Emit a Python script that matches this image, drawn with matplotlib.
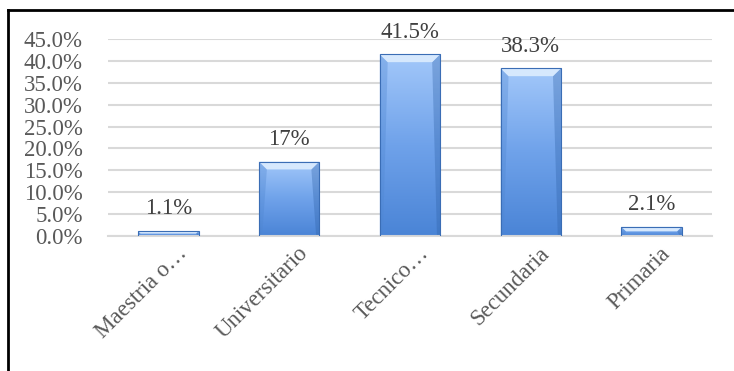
import numpy as np
import matplotlib
matplotlib.use("Agg")
import matplotlib.pyplot as plt
from matplotlib.colors import LinearSegmentedColormap
from matplotlib.patches import Polygon
from matplotlib.lines import Line2D
import matplotlib.transforms as mtransforms

categories = ["Maestria o\u2026", "Universitario", "Tecnico\u2026", "Secundaria", "Primaria"]
values = [0.011, 0.17, 0.415, 0.383, 0.021]
value_labels = ["1.1%", "17%", "41.5%", "38.3%", "2.1%"]
yticks = [0.0, 0.05, 0.10, 0.15, 0.20, 0.25, 0.30, 0.35, 0.40, 0.45]

plt.rcParams['font.family'] = ['Liberation Serif', 'DejaVu Serif']
text_color = "#595959"
fs = 16.5

fig = plt.figure(figsize=(7.34, 3.71), dpi=100)
ax = fig.add_axes([0.147, 0.364, 0.823, 0.531])

x = np.arange(len(categories))
width = 0.5
bars = ax.bar(x, values, width=width, color="none", edgecolor="#3a6db5",
              linewidth=0.8, zorder=3)

ax.set_xlim(-0.5, len(categories) - 0.5)
ax.set_ylim(0, 0.45)

# gradient fill + top bevel for each bar
cmap = LinearSegmentedColormap.from_list("bar", ["#4a84d6", "#6fa2ea", "#a3c8fa"])
grad = np.linspace(0, 1, 256).reshape(-1, 1)
bevel_h = 0.018
bevel_w = 0.066
for rect, v in zip(bars, values):
    x0 = rect.get_x()
    x1 = x0 + rect.get_width()
    im = ax.imshow(grad, extent=[x0, x1, 0, v], origin="lower", aspect="auto",
                   cmap=cmap, zorder=2)
    im.set_clip_path(rect)
    bh = min(bevel_h, v * 0.5)
    bw = min(bevel_w, bh / bevel_h * bevel_w)
    top = Polygon([[x0, v], [x1, v], [x1 - bw, v - bh], [x0 + bw, v - bh]],
                  closed=True, facecolor="#d6e8fd", edgecolor="none", zorder=2.5)
    ax.add_patch(top)
    side_l = Polygon([[x0, v], [x0 + bw, v - bh], [x0 + bw * 0.4, 0], [x0, 0]],
                     closed=True, facecolor="#4f86d0", edgecolor="none", alpha=0.35, zorder=2.4)
    ax.add_patch(side_l)
    side_r = Polygon([[x1, v], [x1 - bw, v - bh], [x1 - bw * 0.4, 0], [x1, 0]],
                     closed=True, facecolor="#2f62a8", edgecolor="none", alpha=0.35, zorder=2.4)
    ax.add_patch(side_r)

for xi, v, lab in zip(x, values, value_labels):
    ax.annotate(lab, (xi, v), xytext=(0, 12), textcoords="offset points",
                ha="center", va="baseline", fontsize=fs, color="#404040")

ax.set_yticks(yticks)
ax.set_yticklabels([f"{t * 100:.1f}%" for t in yticks], fontsize=fs, color=text_color)
ax.yaxis.grid(True, color="#d9d9d9", linewidth=1.5)
ax.set_axisbelow(True)
ax.tick_params(axis="y", length=0, pad=18)

ax.set_xticks(x)
ax.set_xticklabels(categories, fontsize=fs, color=text_color, rotation=45,
                   ha="right", va="top", rotation_mode="anchor")
ax.tick_params(axis="x", length=0, pad=5)
offset = mtransforms.ScaledTranslation(8 / 100, 0, fig.dpi_scale_trans)
for lab in ax.get_xticklabels():
    lab.set_transform(lab.get_transform() + offset)

for s in ["top", "right", "left"]:
    ax.spines[s].set_visible(False)
ax.spines["bottom"].set_color("#d9d9d9")
ax.spines["bottom"].set_linewidth(1.5)

# outer chart border (left and top visible)
fig.add_artist(Line2D([8 / 734, 8 / 734], [0, 1 - 9.5 / 371], color="black", linewidth=2))
fig.add_artist(Line2D([8 / 734, 1], [1 - 9.5 / 371, 1 - 9.5 / 371], color="black", linewidth=2))

fig.savefig("out.png", dpi=100)
